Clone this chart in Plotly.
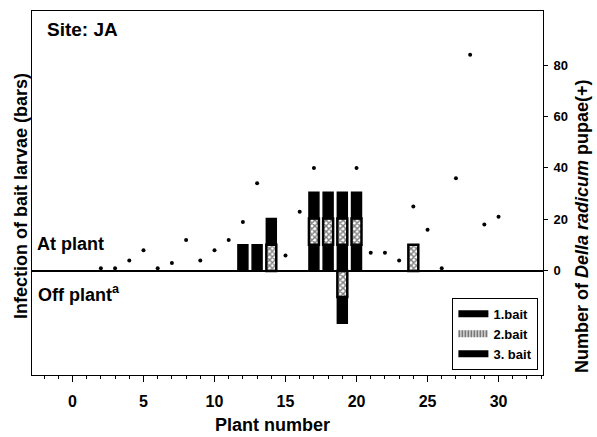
import plotly.graph_objects as go

# ---- data -------------------------------------------------------------
# infection of bait larvae (bars), at plant
at_plants = [12, 13, 14, 17, 18, 19, 20, 24]
at_bait1 = [1, 1, None, 1, 1, 1, 1, None]
at_bait2 = [None, None, 1, 1, 1, 1, 1, 1]
at_bait3 = [None, None, 1, 1, 1, 1, 1, None]
# off plant (negative direction)
off_plants = [19]
off_bait2 = [-1]
off_bait3 = [-1]

# Delia radicum pupae (points)
pupae_plants = [2, 3, 4, 5, 6, 7, 8, 9, 10, 11, 12, 13, 15, 16, 17,
                20, 21, 22, 23, 24, 25, 26, 27, 28, 29, 30]
pupae = [1, 1, 4, 8, 1, 3, 12, 4, 8, 12, 19, 34, 6, 23, 40,
         40, 7, 7, 4, 25, 16, 1, 36, 84, 18, 21]

x_ticks = [0, 5, 10, 15, 20, 25, 30]
y2_ticks = [0, 20, 40, 60, 80]
legend_names = ["1.bait", "2.bait", "3. bait"]

FONT = "Liberation Sans, Arial, Helvetica, sans-serif"
BW = 0.7

solid = dict(color="black", line=dict(color="black", width=1.5))
hatched = dict(color="white", line=dict(color="black", width=2.5),
               pattern=dict(shape="x", fgcolor="black", bgcolor="white",
                            size=4, solidity=0.6))

fig = go.Figure()
fig.add_trace(go.Bar(x=at_plants, y=at_bait1, width=BW, marker=solid,
                     showlegend=False, yaxis="y"))
fig.add_trace(go.Bar(x=at_plants, y=at_bait2, width=BW, marker=hatched,
                     showlegend=False, yaxis="y"))
fig.add_trace(go.Bar(x=at_plants, y=at_bait3, width=BW, marker=solid,
                     showlegend=False, yaxis="y"))
fig.add_trace(go.Bar(x=off_plants, y=off_bait2, width=BW, marker=hatched,
                     showlegend=False, yaxis="y"))
fig.add_trace(go.Bar(x=off_plants, y=off_bait3, width=BW, marker=solid,
                     showlegend=False, yaxis="y"))

fig.add_trace(go.Scatter(x=pupae_plants, y=pupae, mode="markers",
                         marker=dict(color="black", size=4, symbol="circle"),
                         showlegend=False, yaxis="y2"))

# legend entries
leg_styles = [dict(color="black", width=7),
              dict(color="#777777", width=7, dash="2px,1px"),
              dict(color="black", width=7)]
for name, ls in zip(legend_names, leg_styles):
    fig.add_trace(go.Scatter(x=[None], y=[None], mode="lines", line=ls,
                             name=name, yaxis="y2"))

fig.update_layout(
    width=597, height=437,
    margin=dict(l=32, r=54, t=11, b=62),
    paper_bgcolor="white", plot_bgcolor="white",
    barmode="relative",
    font=dict(family=FONT, color="black"),
    xaxis=dict(range=[-2.85, 33.13], tickvals=x_ticks, ticks="outside",
               ticklen=6, tickwidth=1, tickcolor="black",
               minor=dict(dtick=1, ticks="outside", ticklen=3,
                          tickcolor="black", showgrid=False),
               showline=True, linecolor="black", linewidth=1, mirror=True,
               showgrid=False, zeroline=False,
               tickfont=dict(size=16, weight="bold"), ticklabelstandoff=6),
    yaxis=dict(range=[-3.97, 9.91], showticklabels=False, ticks="",
               showgrid=False, zeroline=True, zerolinecolor="black",
               zerolinewidth=1.5, showline=True, linecolor="black",
               linewidth=1),
    yaxis2=dict(range=[-40.5, 101], overlaying="y", side="right",
                tickvals=y2_ticks, ticks="outside", ticklen=4,
                tickcolor="black", showline=True, linecolor="black",
                linewidth=1, showgrid=False, zeroline=False,
                tickfont=dict(size=13, weight="bold"), ticklabelstandoff=3),
    legend=dict(x=0.991, y=0.014, xanchor="right", yanchor="bottom",
                bordercolor="black", borderwidth=1, bgcolor="white",
                font=dict(size=13, weight="bold"), tracegroupgap=0,
                itemwidth=30),
)

ann_font = dict(family=FONT, size=18, color="black", weight="bold")
fig.add_annotation(text="Site: JA", xref="paper", yref="paper",
                   x=0.026, y=0.95, xanchor="left", yanchor="middle",
                   showarrow=False, font=dict(family=FONT, size=19,
                                              color="black", weight="bold"))
fig.add_annotation(text="At plant", xref="paper", yref="paper",
                   x=0.005, y=(375 - 244) / 364, xanchor="left",
                   yanchor="middle", showarrow=False, font=ann_font)
fig.add_annotation(text="Off plant<sup>a</sup>", xref="paper", yref="paper",
                   x=0.007, y=(375 - 293) / 364, xanchor="left",
                   yanchor="middle", showarrow=False, font=ann_font)
fig.add_annotation(text="Plant number", xref="paper", yref="paper",
                   x=(272 - 32) / 511, y=(375 - 436) / 364, xanchor="center",
                   yanchor="bottom", borderpad=0, showarrow=False,
                   font=ann_font)
fig.add_annotation(text="Infection of bait larvae (bars)", xref="paper",
                   yref="paper", x=(21 - 32) / 511, y=(375 - 196) / 364,
                   xanchor="center", yanchor="middle", textangle=-90,
                   showarrow=False, font=ann_font)
fig.add_annotation(text="Number of <i>Della radicum</i> pupae(+)",
                   xref="paper", yref="paper", x=(582 - 32) / 511,
                   y=(375 - 226) / 364, xanchor="center", yanchor="middle",
                   textangle=-90, showarrow=False, font=ann_font)

fig.write_html("out.html")
